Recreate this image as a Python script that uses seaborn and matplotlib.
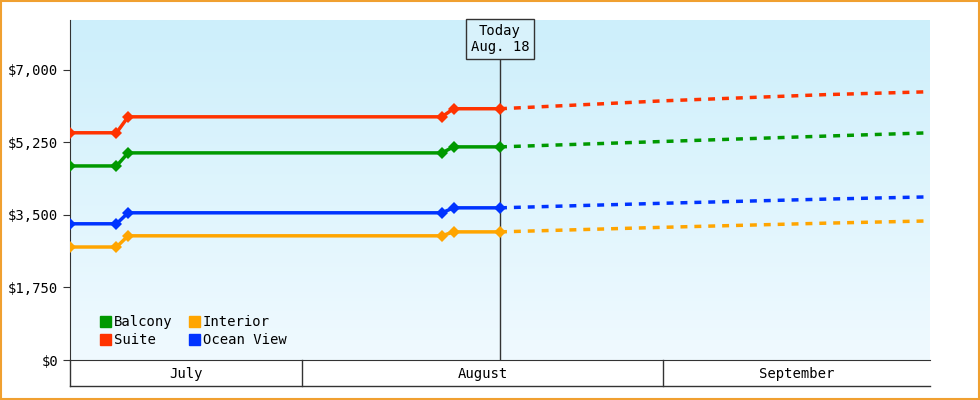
import numpy as np
import pandas as pd
import matplotlib
matplotlib.use("Agg")
import matplotlib.pyplot as plt
import matplotlib.dates as mdates
from matplotlib.patches import Rectangle
import seaborn as sns

hist_dates = ["2024-07-12", "2024-07-16", "2024-07-17", "2024-08-13", "2024-08-14", "2024-08-18"]
fc_dates = ["2024-08-18", "2024-09-01", "2024-09-15", "2024-09-24"]
series = ["Balcony", "Suite", "Interior", "Ocean View"]
colors = {"Balcony": "#009900", "Suite": "#ff3300", "Interior": "#ffa500", "Ocean View": "#0033ff"}
hist = {
    "Suite": [5480, 5480, 5865, 5865, 6060, 6060],
    "Balcony": [4680, 4680, 4995, 4995, 5140, 5140],
    "Ocean View": [3285, 3285, 3550, 3550, 3670, 3670],
    "Interior": [2725, 2725, 2995, 2995, 3090, 3090],
}
fc = {
    "Suite": [6060, 6250, 6400, 6470],
    "Balcony": [5140, 5270, 5400, 5480],
    "Ocean View": [3670, 3780, 3880, 3935],
    "Interior": [3090, 3200, 3300, 3355],
}
months = ["July", "August", "September"]
month_edges = ["2024-07-12", "2024-08-01", "2024-09-01", "2024-09-24"]
today = "2024-08-18"
yticks = [0, 1750, 3500, 5250, 7000]

plt.rcParams['font.family'] = ['DejaVu Sans Mono']
fig = plt.figure(figsize=(9.8, 4), dpi=100)
fig.patch.set_facecolor("white")
fig.patches.append(Rectangle((0.001, 0.002), 0.998, 0.996, transform=fig.transFigure,
                             fill=False, edgecolor="#f0a030", lw=1.5))
ax = fig.add_axes([70/980, 40/400, 860/980, 340/400])

x0 = mdates.date2num(pd.Timestamp(month_edges[0]))
x1 = mdates.date2num(pd.Timestamp(month_edges[-1]))
grad = np.linspace(0, 1, 256).reshape(-1, 1)
cmap = matplotlib.colors.LinearSegmentedColormap.from_list("bg", ["#f0faff", "#cdeffb"])
ax.imshow(grad, aspect="auto", cmap=cmap, origin="lower",
          extent=[x0, x1, 0, 8200], zorder=0)

hd = pd.to_datetime(hist_dates)
fd = pd.to_datetime(fc_dates)
for s in series:
    df = pd.DataFrame({"date": hd, "price": hist[s]})
    sns.lineplot(data=df, x="date", y="price", ax=ax, color=colors[s], lw=2.5,
                 marker="D", markersize=6, markeredgewidth=0, zorder=3)
    dff = pd.DataFrame({"date": fd, "price": fc[s]})
    sns.lineplot(data=dff, x="date", y="price", ax=ax, color=colors[s], lw=2.5,
                 linestyle=(0, (2, 2)), zorder=3)

ax.set_xlim(x0, x1)
ax.set_ylim(0, 8200)
ax.set_yticks(yticks)
ax.set_yticklabels([f"${v:,}" for v in yticks], fontsize=10)
ax.set_xticks([])
ax.set_xlabel("")
ax.set_ylabel("")
for sp in ["top", "right"]:
    ax.spines[sp].set_visible(False)
ax.spines["left"].set_color("#333333")
ax.spines["bottom"].set_color("#333333")
ax.tick_params(axis="y", length=5, color="#333333")

# today line and label
td = mdates.date2num(pd.Timestamp(today))
ax.axvline(td, color="#333333", lw=1, zorder=2)
ax.text(td, 7750, "Today\nAug. 18", ha="center", va="center", fontsize=10, zorder=5,
        bbox=dict(boxstyle="square,pad=0.35", fc="#d8f2fb", ec="#333333", lw=1))

# month band
tr = ax.get_xaxis_transform()
for i, m in enumerate(months):
    a = mdates.date2num(pd.Timestamp(month_edges[i]))
    b = mdates.date2num(pd.Timestamp(month_edges[i + 1]))
    ax.add_line(plt.Line2D([a, a], [0, -0.075], transform=tr, color="#333333", lw=1, clip_on=False))
    ax.text((a + b) / 2, -0.04, m, transform=tr, ha="center", va="center", fontsize=10)
ax.add_line(plt.Line2D([x0, x1], [-0.075, -0.075], transform=tr, color="#333333", lw=1, clip_on=False))

# legend
from matplotlib.patches import Patch
handles = [Patch(color=colors[s], label=s) for s in series]
ax.legend(handles=handles, ncol=2, loc="lower left", frameon=False, fontsize=10,
          handlelength=0.8, handleheight=0.8, handletextpad=0.2, columnspacing=1.2,
          labelspacing=0.3, bbox_to_anchor=(0.02, 0.0))

fig.savefig("out.png", dpi=100)
